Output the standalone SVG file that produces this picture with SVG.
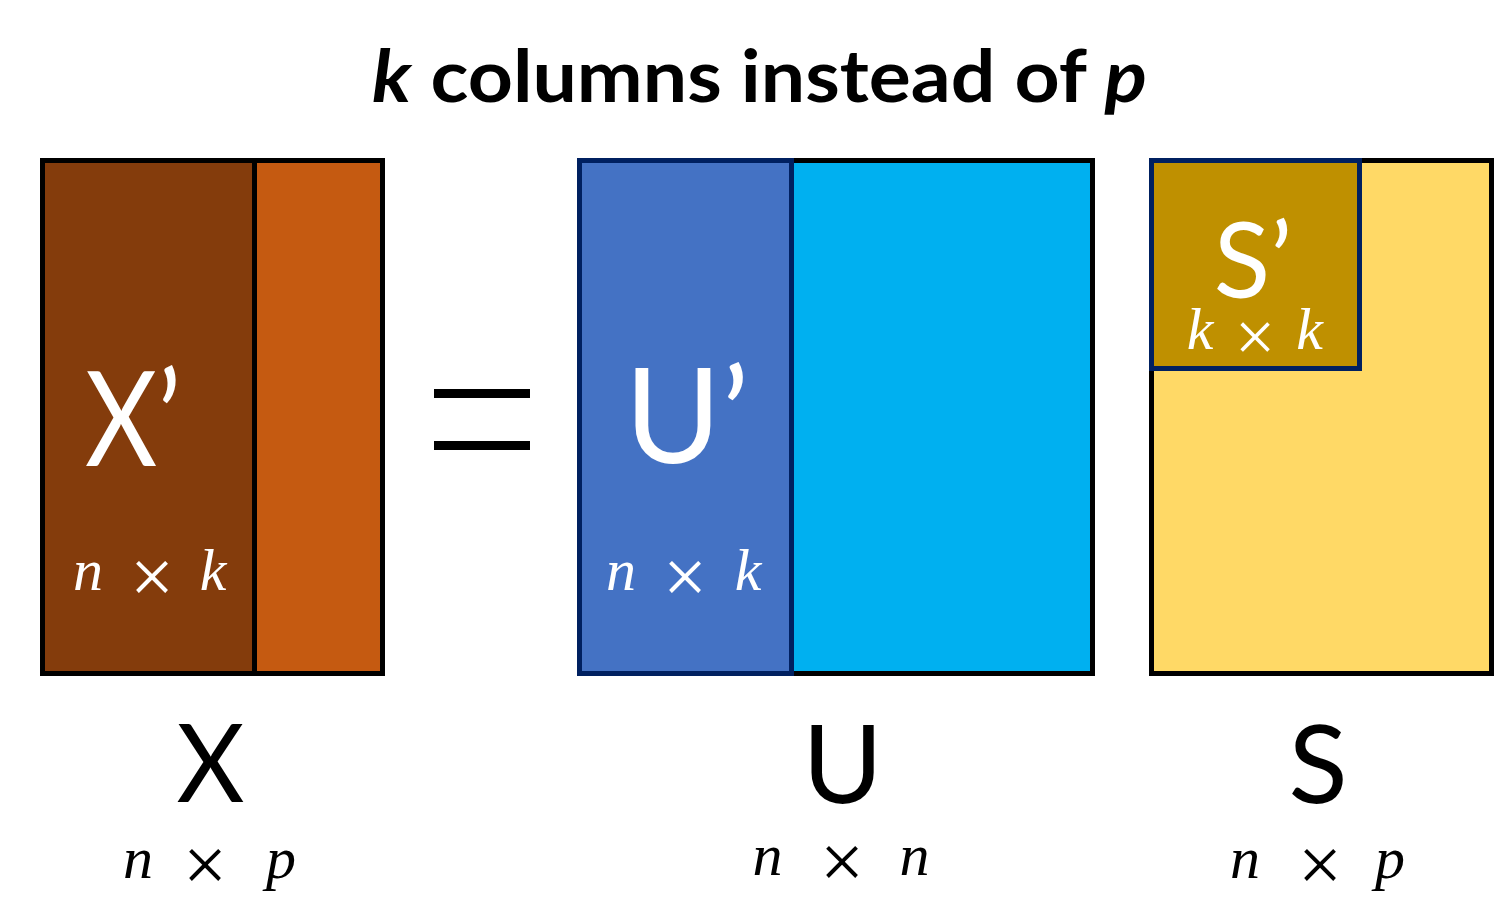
<svg xmlns="http://www.w3.org/2000/svg" width="1494" height="912" viewBox="0 0 1494 912">
  <style>
    .box { stroke-width: 5; }
    .blk { stroke: #000000; }
    .navy { stroke: #002060; }
    .lbl { font-family: Lato, "Open Sans", "Liberation Sans", sans-serif; }
    .big { font-size: 131px; fill: #FFFFFF; text-anchor: middle; }
    .name { font-size: 109px; fill: #000000; text-anchor: middle; }
    .math { font-family: "Liberation Serif", "DejaVu Serif", serif; font-size: 60px; text-anchor: middle; }
    .var { font-style: italic; }
    .times { font-size: 78px; }
    .w { fill: #FFFFFF; }
    .k { fill: #000000; }
  </style>
  <rect width="1494" height="912" fill="#FFFFFF"/>

  <g id="title">
    <text class="lbl" x="372" y="102" font-size="73" font-weight="bold" textLength="775" lengthAdjust="spacingAndGlyphs"><tspan font-style="italic">k</tspan> columns instead of <tspan font-style="italic">p</tspan></text>
  </g>

  <g id="matrix-X">
    <rect class="box blk" x="42.5" y="160.5" width="340" height="513" fill="#C55A11"/>
    <rect id="matrix-X-prime" class="box blk" x="42.5" y="160.5" width="212" height="513" fill="#843C0C"/>
    <text class="lbl big" x="133" y="466" textLength="96" lengthAdjust="spacingAndGlyphs">X’</text>
    <text class="math w"><tspan class="var" x="88" y="590">n</tspan><tspan class="times" x="152" y="603">×</tspan><tspan class="var" x="213" y="590">k</tspan></text>
    <text class="lbl name" x="210.5" y="802" textLength="68" lengthAdjust="spacingAndGlyphs">X</text>
    <text class="math k"><tspan class="var" x="138" y="878">n</tspan><tspan class="times" x="205" y="891">×</tspan><tspan class="var" x="281" y="878">p</tspan></text>
  </g>

  <g id="equals">
    <rect x="434" y="389" width="96" height="9" fill="#000000"/>
    <rect x="434" y="441" width="96" height="9" fill="#000000"/>
  </g>

  <g id="matrix-U">
    <rect class="box blk" x="579.5" y="160.5" width="513" height="513" fill="#00B0F0"/>
    <rect id="matrix-U-prime" class="box navy" x="579.5" y="160.5" width="212" height="513" fill="#4472C4"/>
    <text class="lbl big" x="687" y="463">U’</text>
    <text class="math w"><tspan class="var" x="621" y="590">n</tspan><tspan class="times" x="685" y="603">×</tspan><tspan class="var" x="748" y="590">k</tspan></text>
    <text class="lbl name" x="842.5" y="803">U</text>
    <text class="math k"><tspan class="var" x="767.5" y="875">n</tspan><tspan class="times" x="842" y="888">×</tspan><tspan class="var" x="914.5" y="875">n</tspan></text>
  </g>

  <g id="matrix-S">
    <rect class="box blk" x="1151.5" y="160.5" width="340" height="513" fill="#FFD966"/>
    <rect id="matrix-S-prime" class="box navy" x="1151.5" y="160.5" width="208" height="208" fill="#BF9000"/>
    <text class="lbl" x="1253" y="298" font-size="104" fill="#FFFFFF" text-anchor="middle">S’</text>
    <text class="math w" font-size="56"><tspan class="var" x="1200" y="349">k</tspan><tspan x="1255" y="361" font-size="72">×</tspan><tspan class="var" x="1309.5" y="349">k</tspan></text>
    <text class="lbl name" x="1318" y="803">S</text>
    <text class="math k"><tspan class="var" x="1245" y="878">n</tspan><tspan class="times" x="1320" y="891">×</tspan><tspan class="var" x="1390" y="878">p</tspan></text>
  </g>
</svg>
